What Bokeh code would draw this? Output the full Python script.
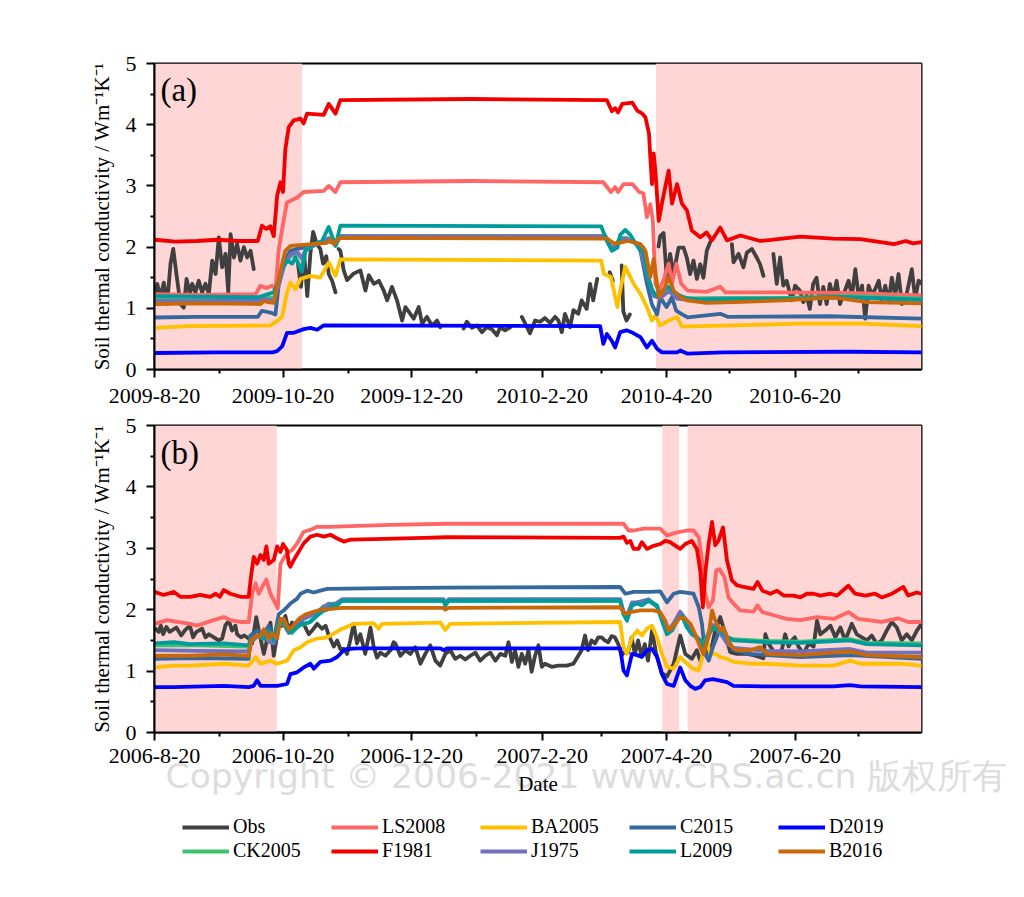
import numpy as np
import pandas as pd
from bokeh.plotting import figure
from bokeh.models import FixedTicker, BoxAnnotation, Label, Legend, LegendItem, Range1d
from bokeh.layouts import column
from bokeh.embed import file_html
from bokeh.resources import INLINE

# ---------------- data ----------------
SERIES = ["Obs", "LS2008", "BA2005", "C2015", "D2019", "CK2005", "F1981", "J1975", "L2009", "B2016"]
COLORS = ["#404040", "#FF6666", "#FFC000", "#35689C", "#0000FF", "#3DC36F", "#F20000", "#7070C0", "#009B9B", "#C8680A"]

A_START, A_END = "2009-08-20", "2010-08-19"
B_START, B_END = "2006-08-20", "2007-08-19"

A_TICKS = ["2009-08-20", "2009-10-20", "2009-12-20", "2010-02-20", "2010-04-20", "2010-06-20"]
A_TICK_LABELS = ["2009-8-20", "2009-10-20", "2009-12-20", "2010-2-20", "2010-4-20", "2010-6-20"]
A_MINOR = ["2009-09-20", "2009-11-20", "2010-01-20", "2010-03-20", "2010-05-20", "2010-07-20"]
B_TICKS = ["2006-08-20", "2006-10-20", "2006-12-20", "2007-02-20", "2007-04-20", "2007-06-20"]
B_TICK_LABELS = ["2006-8-20", "2006-10-20", "2006-12-20", "2007-2-20", "2007-4-20", "2007-6-20"]
B_MINOR = ["2006-09-20", "2006-11-20", "2007-01-20", "2007-03-20", "2007-05-20", "2007-07-20"]

A_SHADE = [("2009-08-20", "2009-10-29"), ("2010-04-15", "2010-08-19")]
B_SHADE = [("2006-08-20", "2006-10-17"), ("2007-04-18", "2007-04-26"), ("2007-04-30", "2007-08-19")]

Y_TICKS = [0, 1, 2, 3, 4, 5]
Y_MINOR = [0.5, 1.5, 2.5, 3.5, 4.5]

# (day offset from start, value); None = gap in record
A_OBS = [(0.5,1.24),(1.3,1.40),(2.8,1.18),(4.4,1.42),(6,1.07),(7.6,1.73),(8.9,1.97),(10.4,1.56),(12.3,1.07),(13.9,1.01),
         (15.2,1.48),(16.8,1.24),(17.9,1.40),(19.4,1.26),(21,1.45),(22.6,1.26),(24.2,1.40),(25.8,1.24),(27.4,1.78),(29,1.56),
         (30.5,2.16),(32.1,1.67),(33.7,1.89),(35,1.26),(36.1,2.21),(37.7,1.83),(39.2,2.05),(40.8,1.78),(42.4,2.0),(44,1.83),
         (45.6,1.94),(47.1,1.64), None,
         (68,1.75),(69.5,1.35),(71,1.9),(72.5,1.2),(74,1.9),(75.3,2.25),(77,2.05),(78.7,1.97),(80,1.73),(81.5,1.85),(82.7,1.56),
         (84.3,1.45),(85.9,1.26), None,
         (87.4,1.97),(88.2,1.94),(89.8,1.62),(91.4,1.46),(94.6,1.57),(97.7,1.62),(100.1,1.29),(101.7,1.54),(104.1,1.40),(106.5,1.45),
         (108.8,1.29),(110.4,1.13),(112.7,1.35),(115.1,1.13),(117.5,0.80),(119.1,1.02),(121.4,0.91),(123,0.83),(125.4,1.02),(127,0.75),
         (129.3,0.86),(131.7,0.72),(134.1,0.80),(135.6,0.69), None,
         (146.7,0.67),(148.2,0.78),(150.6,0.68),(153,0.72),(155.4,0.61),(157.7,0.69),(160,0.66),(162.5,0.56),(164,0.69),(166.4,0.64),
         (168.8,0.69), None,
         (174.3,0.86),(175.8,0.76),(178.2,0.59),(180.6,0.80),(183,0.78),(185.3,0.84),(187.7,0.76),(190.1,0.86),(191.7,0.80),(193.3,0.61),
         (194.8,0.91),(197.2,0.69),(198.8,0.97),(201.1,0.91),(202.7,1.13),(205.1,0.99),(206.7,1.40),(208.2,1.13),(210.1,1.48), None,
         (216,1.59),(217.5,1.45), None,
         (221.7,1.70),(222.5,0.95),(224,0.80),(225.6,0.90), None,
         (239.2,2.01),(240,2.18),(241.6,2.23),(243.2,1.46),(244.7,1.89),(246.3,1.56),(248.7,1.99),(251.1,1.99),(252.6,1.83),(254.2,1.56),
         (255.8,1.78),(257.4,1.48),(259,1.72),(260.5,1.50),(262.1,1.94),(263.7,2.08), None,
         (274,2.05),(274.8,1.75),(277.2,1.89),(279.5,1.67),(281.1,1.91),(283.5,1.97),(285.8,1.83),(287.4,1.72),(289,1.53), None,
         (293.7,1.89),(295.3,1.40),(296.9,1.83),(298.4,1.37),(300,1.45),(302.4,1.13),(304,1.37),(306.3,1.29),(307.9,1.10),(309.5,1.21),
         (311,0.99),(312.6,1.40),(314.2,1.50),(315.8,1.07),(317.4,1.35),(319,1.07),(320.5,1.40),(322.1,1.18),(323.7,1.45),(325.3,1.07),
         (329.4,1.45),(331,1.21),(332.6,1.64),(334.2,1.18),(335.8,1.37),(337.3,0.83),(338.9,1.37),(340.5,1.21),(342.1,1.32),(343.7,1.45),
         (345.2,1.13),(346.8,1.37),(348.4,1.10),(349.9,1.50),(351.5,1.21),(353.1,1.56),(354.7,1.07),(356.3,1.13),(357.8,1.37),(359.4,1.64),
         (361,1.15),(362.6,1.45),(364.2,1.40)]
A_LS2008 = [(0,1.23),(20,1.22),(48,1.23),(50.3,1.37),(53,1.33),(55.8,1.37),(57.4,1.30),(59,1.97),(61.4,2.46),(62.9,2.73),(67.7,2.81),
            (70.8,2.90),(80.3,2.92),(82.7,3.00),(85.9,2.90),(88.2,3.06),(150,3.08),(213,3.06),(216.6,2.90),(218.6,2.98),(220,2.90),
            (222.6,3.03),(226.8,3.03),(230,2.90),(232,2.88),(233.7,2.49),(235.3,2.70),(236.5,2.43),(237.7,1.40),(239.3,1.29),(241.5,1.45),
            (244,1.73),(245.6,1.40),(247.6,1.73),(250,1.40),(253,1.29),(262,1.27),(268.5,1.35),(271,1.26),(300,1.26),(330,1.25),(364,1.21)]
A_BA2005 = [(0,0.68),(17,0.71),(55,0.72),(58.2,0.79),(60.6,0.87),(62.9,1.26),(64.5,1.42),(66.9,1.31),(69.3,1.48),(74,1.53),(78.7,1.50),
            (82.7,1.75),(85.9,1.53),(88.2,1.80),(212,1.78),(213.3,1.56),(216.6,1.51),(219.7,1.02),(221,1.29),(223.4,1.68),(227.4,1.40),
            (230.6,1.24),(233.7,1.02),(236.1,0.80),(237.7,0.88),(240,0.72),(244,0.80),(248,0.86),(250.3,0.70),(259,0.71),(275,0.72),
            (306,0.75),(335,0.75),(364,0.71)]
A_C2015 = [(0,0.85),(20,0.86),(49,0.86),(51,0.96),(55,0.93),(57.4,0.90),(59,1.40),(61.4,1.75),(64.5,1.94),(67.7,1.97),(70.8,1.99),
           (75,2.05),(82.7,2.10),(85.9,2.05),(88.2,2.17),(214,2.17),(217,1.95),(222,2.12),(226,2.10),(230,2.05),(233.7,1.40),(236.1,1.06),
           (238.5,0.90),(240,1.18),(243,1.02),(245.6,1.18),(247.6,0.96),(250,0.91),(253,0.85),(268.5,0.91),(272,0.86),(320,0.87),(364,0.83)]
A_D2019 = [(0,0.27),(30,0.28),(56,0.28),(58.2,0.30),(60.6,0.38),(62.9,0.60),(66.1,0.60),(70.8,0.66),(74,0.68),(77.2,0.65),(80.3,0.72),
           (211.5,0.71),(213,0.42),(214.7,0.58),(217,0.47),(218.6,0.36),(221,0.61),(224,0.64),(227,0.60),(230.6,0.53),(233.7,0.36),
           (236.1,0.47),(238.5,0.34),(240.8,0.28),(248,0.28),(249.5,0.31),(252.7,0.26),(270,0.28),(330,0.29),(364,0.28)]
A_CK2005 = [(0,1.15),(49,1.14),(52,1.20),(56.6,1.16),(59,1.40),(61.4,1.70),(64.5,1.85),(67.7,1.90),(70,1.80),(72,1.95),(77,2.05),
            (82.7,2.15),(85.9,2.02),(88.2,2.18),(214,2.18),(217,1.96),(221,2.15),(224,2.15),(230,2.02),(234,1.55),(237,1.22),(240,1.20),
            (244,1.30),(248,1.18),(252,1.16),(270,1.17),(300,1.17),(330,1.20),(364,1.16)]
A_F1981 = [(0,2.12),(10,2.09),(20,2.10),(30,2.12),(40,2.10),(49,2.10),(51,2.35),(53,2.30),(55,2.34),(56.6,2.18),(58.2,2.84),(59.8,3.06),
           (61,2.90),(62.1,3.60),(63.7,3.96),(66.1,4.07),(69.3,4.10),(70.8,4.02),(72.4,4.18),(80.3,4.16),(82.7,4.34),(85.9,4.18),(88.2,4.40),
           (150,4.42),(214.7,4.40),(217.1,4.22),(218.6,4.27),(220,4.20),(222,4.34),(226.8,4.36),(229.1,4.23),(231.5,4.18),(233,4.12),
           (234.7,3.85),(235.3,3.47),(236.1,3.03),(236.9,3.53),(237.7,3.25),(239.3,2.43),(240.8,2.71),(244,3.25),(245.6,2.71),(248,3.03),
           (250.3,2.71),(252.7,2.60),(255,2.27),(259,2.16),(262,2.24),(264.5,2.11),(268.5,2.32),(271.7,2.11),(278,2.19),(287.5,2.10),
           (306.5,2.17),(322,2.14),(335,2.13),(351,2.05),(356.5,2.10),(360,2.06),(364,2.08)]
A_J1975 = [(0,1.12),(49,1.12),(52,1.16),(56.6,1.12),(59,1.38),(61.4,1.68),(64.5,1.88),(67.7,1.92),(70,1.82),(72,1.97),(77,2.05),
           (82.7,2.14),(85.9,2.04),(88.2,2.18),(214,2.18),(217,1.98),(221,2.12),(224,2.14),(230,2.03),(234,1.50),(237,1.20),(240,1.17),
           (244,1.28),(248,1.16),(252,1.14),(270,1.15),(300,1.15),(330,1.18),(364,1.14)]
A_L2009 = [(0,1.20),(20,1.19),(49,1.18),(56.6,1.26),(58.5,1.40),(60.6,1.67),(63,1.78),(65.3,1.73),(66.9,1.83),(70,1.60),(71.6,1.94),
           (75,2.04),(79.5,2.10),(82.7,2.33),(85.9,2.02),(88.2,2.35),(212,2.34),(214.7,2.10),(217.1,1.94),(219.7,1.99),(221,2.20),
           (223.4,2.28),(225.8,2.20),(227.4,2.11),(230.6,1.94),(232,1.99),(233.7,1.57),(236.1,1.30),(238.5,1.19),(241.6,1.30),(244,1.35),
           (247.2,1.25),(250.3,1.19),(253.5,1.16),(259,1.14),(275,1.15),(306,1.16),(322,1.19),(364,1.14)]
A_B2016 = [(0,1.07),(20,1.08),(50.3,1.07),(51.9,1.12),(54,1.10),(56.6,1.09),(58.2,1.35),(60.6,1.73),(62.1,1.94),(64.5,2.02),(72,2.04),
           (81.9,2.07),(83.5,2.12),(85.1,2.05),(86.7,2.12),(88.2,2.15),(214.7,2.14),(218.6,2.05),(221.8,2.08),(225,2.10),(230.6,2.05),
           (233,1.94),(235.3,1.51),(236.9,1.81),(239.3,1.18),(241.6,1.29),(244,1.51),(246.4,1.29),(249.5,1.18),(252.7,1.13),(262,1.09),
           (275,1.10),(299,1.13),(322,1.18),(338,1.10),(364,1.08)]

B_OBS = [(0.5,1.69),(2,1.64),(3,1.74),(4.1,1.60),(5.6,1.72),(7.2,1.64),(10.4,1.71),(12.7,1.58),(14.3,1.66),(16.8,1.74),(18.3,1.55),
         (19.9,1.64),(22.6,1.69),(24.2,1.55),(25.8,1.60),(28.2,1.55),(30.5,1.50),(32.1,1.53),(33.7,1.75),(35.3,1.82),(36.8,1.66),
         (38.4,1.74),(39.2,1.60),(41,1.55),(42.6,1.58),(44.7,1.53),(46.3,1.45),(48.3,1.88),(49.5,1.66),(51.9,1.28),(53.5,1.53),(55,1.79),
         (56.6,1.25),(57.8,1.50),(58.6,1.79),(60.5,1.74),(62.1,1.90),(63.7,1.66),(65.3,1.79),(66.9,1.74),(68.5,1.82),(70.8,1.77),
         (73.2,1.60),(74.8,1.66),(77.2,1.77),(79.5,1.69),(81.2,1.74),(82.7,1.58),(85.1,1.40),(86.7,1.50),(88.2,1.36),(90,1.36),(91.4,1.28),
         (92.9,1.50),(94.5,1.77),(96.1,1.45),(97.7,1.60),(100,1.28),(102.5,1.71),(104,1.40),(105.6,1.22),(107.2,1.30),(109.6,1.25),
         (112,1.34),(113.5,1.47),(114.3,1.45),(116.7,1.25),(119.1,1.34),(121.4,1.28),(123.8,1.39),(126.2,1.12),(128.5,1.28),(130.9,1.42),
         (133.3,1.17),(135.6,1.09),(138,1.28),(140.4,1.34),(142.7,1.20),(145.1,1.25),(147.5,1.19),(149.9,1.25),(152.3,1.30),(154.6,1.17),
         (157,1.25),(159.4,1.30),(161.8,1.17),(164.1,1.28),(166.5,1.25),(168,1.47),(169.6,1.15),(171.1,1.34),(172.7,1.07),(174.3,1.28),
         (175.9,1.12),(177.5,1.34),(179,0.99),(180.6,1.25),(182.2,1.42),(183.8,1.07),(185.3,1.12),(188.5,1.07),(191.6,1.09),(195.6,1.09),
         (198.8,1.12),(201.1,1.25),(202.7,1.34),(204.3,1.58),(205.8,1.34),(207.4,1.50),(209,1.45),(210.6,1.55),(212.2,1.55),(213.7,1.50),
         (215.3,1.47),(216.9,1.57),(218.5,1.55),(220.1,1.44),(221.7,1.25),(223.4,1.34),(224.8,1.30),(226.4,1.55),(228,1.28),(229.5,1.50),
         (231.1,1.25),(232.7,1.44),(234.2,1.17),(236.1,1.66),(238,1.30),(240.8,0.97),(243.2,0.91),(246.4,1.12),(249.5,1.58),(251.9,1.28),
         (255,1.20),(257.4,1.34),(259,1.17),(261.3,1.34),(263.7,1.28),(266.1,1.66),(268.5,1.88),(270.9,1.60),(273.2,1.31),(276.3,1.28),
         (281.1,1.28),(284.3,1.26),(289,1.21),(289.9,1.60),(291.4,1.45),(294.6,1.28),(297.7,1.34),(299.3,1.60),(300.9,1.40),(302.5,1.50),
         (303.9,1.55),(305.6,1.40),(308.1,1.28),(310.4,1.45),(312.8,1.40),(314.4,1.82),(316,1.60),(318.3,1.66),(320.8,1.74),(323.1,1.55),
         (325.5,1.71),(327.8,1.50),(330.9,1.77),(333.3,1.60),(335.7,1.55),(338.1,1.50),(340.4,1.58),(342.8,1.44),(345.1,1.50),(347.5,1.66),
         (349.9,1.80),(352.3,1.71),(354.6,1.50),(357,1.60),(359.4,1.50),(361.8,1.66),(364,1.77)]
B_LS2008 = [(0,1.77),(6,1.83),(10.9,1.80),(17,1.77),(20.2,1.74),(28,1.83),(32.9,1.88),(36,1.83),(40.8,1.80),(44.7,1.80),(46.3,2.26),
            (48,2.43),(49.5,2.26),(51.1,2.37),(53.1,2.49),(55,2.26),(57.4,2.10),(58.5,2.02),(59.8,2.75),(61.4,2.84),(62.9,2.92),(65.3,2.97),
            (67.7,3.08),(70.8,3.27),(74,3.30),(77.2,3.35),(83.5,3.35),(93,3.36),(112,3.38),(138.8,3.40),(222.6,3.40),(225,3.29),(227.4,3.29),
            (232.1,3.32),(240,3.32),(243.2,3.21),(248,3.26),(252.7,3.29),(255.8,3.29),(258.3,3.18),(259.8,2.81),(261.3,2.26),(263,2.04),
            (265,2.15),(266.6,2.64),(268.2,2.66),(270.5,2.53),(272.4,2.20),(274.8,2.10),(277.9,1.99),(284.3,1.97),(286.2,2.07),(288.5,1.96),
            (293.9,1.91),(300.1,1.85),(306.5,1.83),(314.4,1.88),(322.3,1.85),(329.3,1.96),(334,1.85),(345,1.80),(352.9,1.86),(357.7,1.80),
            (364,1.80)]
B_BA2005 = [(0,1.06),(9.2,1.09),(17,1.09),(32.9,1.12),(44.7,1.09),(48,1.23),(50.3,1.12),(55,1.17),(58.2,1.12),(62.9,1.17),(66.1,1.34),
            (69.3,1.39),(72.4,1.47),(77.2,1.53),(81.9,1.55),(85,1.61),(89,1.69),(91.4,1.72),(94.6,1.77),(104,1.78),(106.4,1.69),(108,1.77),
            (135.7,1.79),(138,1.67),(140.4,1.77),(221,1.80),(222.6,1.39),(224.2,1.28),(226.6,1.55),(229.1,1.66),(231.3,1.58),(233.7,1.69),
            (236.1,1.74),(238.5,1.55),(240.8,1.28),(243.2,1.07),(246.4,1.04),(249.5,1.23),(252.7,1.12),(255.8,1.04),(258.3,1.01),(260.7,1.34),
            (262.1,1.50),(263.7,1.28),(266.1,1.28),(268.5,1.23),(271.7,1.20),(274.8,1.15),(282.7,1.12),(290.6,1.12),(306.5,1.09),(322.3,1.09),
            (330,1.17),(335,1.12),(354,1.12),(364,1.09)]
B_C2015 = [(0,1.20),(20,1.21),(44.7,1.20),(45.5,1.58),(48.7,1.66),(51.9,1.60),(54.2,1.74),(56.6,1.50),(59,1.93),(61.4,1.99),(64.5,2.10),
           (67.7,2.18),(69.3,2.26),(72.4,2.31),(75.6,2.28),(78.7,2.31),(81.9,2.34),(110,2.35),(138.8,2.36),(221,2.37),(223.4,2.26),
           (227.4,2.29),(235.3,2.29),(240,2.30),(243.2,2.12),(246.4,2.26),(249.5,2.29),(255.8,2.26),(258.3,2.04),(259.8,1.77),(261.3,1.28),
           (263,1.17),(265,1.39),(267.4,1.60),(269.8,1.71),(272.4,1.50),(274.8,1.34),(282.7,1.28),(290.6,1.26),(306.5,1.23),(330,1.26),
           (364,1.20)]
B_D2019 = [(0,0.74),(9.2,0.74),(32.9,0.76),(44.7,0.74),(47.1,0.76),(48.7,0.85),(50.3,0.76),(53.5,0.76),(58.2,0.76),(62.9,0.79),(64.5,0.95),
           (67.7,0.98),(70.8,1.06),(74,1.12),(75.6,1.04),(78.7,1.15),(83.5,1.17),(86.7,1.23),(89.8,1.34),(91.4,1.36),(96,1.37),(135.7,1.37),
           (137.2,1.34),(138.8,1.37),(221,1.37),(222.6,1.01),(224.2,0.93),(226.6,1.28),(229.1,1.26),(231.3,1.23),(233.7,1.34),(236.1,1.36),
           (238.5,1.23),(240.8,0.95),(243.2,0.79),(246.4,0.76),(249.5,1.06),(251.9,0.85),(254.3,0.76),(256.6,0.71),(259,0.74),(261.3,0.85),
           (265,0.87),(271.7,0.82),(274.8,0.76),(290.6,0.75),(322.3,0.75),(330,0.77),(335,0.75),(364,0.74)]
B_CK2005 = [(0,1.42),(20,1.42),(44.7,1.40),(46,1.50),(48.7,1.58),(51.9,1.52),(54,1.62),(56.6,1.48),(59,1.78),(61.4,1.76),(63,1.66),
            (65.3,1.62),(68.5,1.74),(73.2,1.79),(75.5,1.86),(78,1.98),(80.3,2.06),(82.7,2.05),(84.5,2.10),(86.7,2.10),(89,2.14),(137.2,2.14),
            (138,2.07),(139.6,2.14),(221,2.14),(222.6,1.92),(224.2,1.84),(226.6,2.08),(229.1,2.12),(234.5,2.14),(238.5,2.05),(240.8,1.84),
            (243.2,1.63),(245.6,1.68),(248,1.84),(250.3,1.90),(252.7,1.72),(255,1.62),(257.4,1.56),(260.7,1.42),(262.8,1.62),(265,1.70),
            (268.5,1.66),(271.7,1.56),(274.8,1.52),(290.6,1.49),(306.5,1.48),(330,1.52),(338,1.46),(364,1.45)]
B_F1981 = [(0,2.29),(4.3,2.24),(9.2,2.29),(12.3,2.21),(17,2.21),(21.7,2.24),(26.4,2.21),(29,2.26),(31,2.21),(32.9,2.32),(36,2.26),
           (40.8,2.21),(44.7,2.21),(45.8,2.54),(47.1,2.86),(48.7,2.75),(50.3,2.89),(51.9,2.81),(53.1,3.03),(54.2,2.75),(56.6,2.81),
           (58.2,3.03),(59.8,2.94),(61,3.07),(62.9,2.97),(63.7,2.75),(64.5,2.70),(66.1,2.81),(70.8,3.08),(74,3.19),(77.2,3.22),(80.3,3.19),
           (83.5,3.22),(86.7,3.16),(89.8,3.11),(93,3.14),(104,3.15),(127.8,3.17),(138.8,3.18),(221,3.17),(222.6,3.19),(224.2,3.09),
           (225.8,3.12),(227.4,2.99),(229.7,2.99),(231.3,3.10),(233.7,2.99),(236.9,3.04),(240,3.07),(242.4,3.12),(244.7,3.10),(247.3,3.04),
           (249.5,2.99),(251.9,3.07),(255,3.12),(257.4,2.99),(259,2.64),(260.2,2.04),(261.5,2.64),(263,3.07),(264.6,3.43),(266.1,3.05),
           (267.7,3.13),(269.8,3.34),(271.7,2.80),(274,2.48),(276.3,2.40),(279.5,2.37),(284.3,2.34),(286.2,2.45),(288.5,2.31),(292.3,2.26),
           (295.4,2.31),(298.6,2.23),(303.3,2.23),(306.5,2.20),(309.6,2.26),(312.8,2.26),(316,2.23),(320.8,2.26),(323.9,2.23),(329.3,2.39),
           (332.5,2.26),(337.3,2.23),(342,2.26),(345.2,2.20),(350,2.26),(355.4,2.37),(357.7,2.23),(361.7,2.28),(364,2.26)]
B_J1975 = [(0,1.34),(20,1.33),(44.7,1.32),(46,1.48),(48.3,1.55),(51.9,1.60),(54.2,1.48),(56.6,1.45),(59.8,1.80),(61.4,1.82),(63.7,1.62),
           (66,1.70),(69,1.82),(74,1.90),(78.7,2.00),(82.7,2.10),(85,2.08),(89,2.17),(137.2,2.17),(138,2.10),(139.6,2.17),(221,2.17),
           (222.6,1.97),(224.2,1.90),(226.6,2.12),(229.1,2.12),(234.5,2.17),(238.5,2.05),(240.8,1.85),(243.2,1.65),(246.4,1.78),(249.5,1.97),
           (252.7,1.82),(255,1.65),(258,1.50),(260.5,1.32),(262.8,1.55),(265,1.75),(268.5,1.62),(271.7,1.45),(274.8,1.38),(290.6,1.33),
           (306.5,1.32),(330,1.36),(338,1.30),(364,1.30)]
B_L2009 = [(0,1.45),(9.2,1.47),(17,1.44),(32.9,1.45),(44.7,1.42),(45.5,1.50),(48.7,1.58),(51.9,1.53),(54,1.66),(56.6,1.50),(59,1.80),
           (61.4,1.78),(63,1.68),(64.5,1.63),(69.3,1.76),(74,1.80),(76.4,1.88),(80,1.98),(82,2.00),(84.3,2.08),(86.2,2.05),(88.9,2.15),
           (137.2,2.15),(138,2.07),(139.6,2.15),(221,2.15),(222.6,1.93),(224.2,1.82),(226.6,2.07),(229.1,2.10),(231.3,2.07),(234.5,2.15),
           (238.5,2.07),(240.8,1.82),(243.2,1.60),(245.6,1.66),(248,1.82),(250.3,1.90),(252.7,1.71),(255,1.60),(257.4,1.55),(259,1.50),
           (260.7,1.39),(262.8,1.60),(265,1.71),(268.5,1.66),(271.7,1.55),(274.8,1.50),(290.6,1.47),(306.5,1.46),(330,1.50),(338,1.44),
           (364,1.42)]
B_B2016 = [(0,1.25),(17,1.25),(32.9,1.27),(44.7,1.25),(46,1.50),(48.3,1.58),(49.9,1.56),(51.9,1.68),(54.2,1.53),(55.8,1.62),(58.2,1.53),
           (59.8,1.85),(61.4,1.85),(63.7,1.68),(65.3,1.72),(68.5,1.85),(71.6,1.92),(74,1.95),(78.7,2.00),(83,2.01),(88.9,2.03),(137.2,2.03),
           (138,2.00),(139.6,2.03),(221,2.04),(223.4,1.93),(225.8,1.96),(230.6,1.99),(236.9,1.99),(240,1.96),(242.4,1.82),(244,1.66),
           (246.4,1.74),(249.5,1.88),(251.9,1.85),(254.3,1.77),(256.6,1.60),(259,1.39),(260.5,1.28),(262.8,1.55),(264.6,1.99),(266.1,1.82),
           (268.5,1.66),(270,1.71),(273.2,1.42),(276.3,1.34),(282.7,1.34),(287.5,1.39),(290.6,1.28),(306.5,1.26),(330,1.32),(338,1.26),
           (364,1.23)]

A_DATA = [A_OBS, A_LS2008, A_BA2005, A_C2015, A_D2019, A_CK2005, A_F1981, A_J1975, A_L2009, A_B2016]
B_DATA = [B_OBS, B_LS2008, B_BA2005, B_C2015, B_D2019, B_CK2005, B_F1981, B_J1975, B_L2009, B_B2016]

Y_LABEL = "Soil thermal conductivity / Wm\u207b\u00b9K\u207b\u00b9"
X_LABEL = "Date"
WATERMARK = "Copyright \u00a9 2006-2021 www.CRS.ac.cn \u7248\u6743\u6240\u6709"

# ---------------- helpers ----------------
SERIF = "Liberation Serif"
SHADE_COLOR = "#FDD6D5"
LEFT, FRAME_W, RIGHT = 154, 767, 95
TOTAL_W = LEFT + FRAME_W + RIGHT
LINE_W = 3.8


def ms(s):
    return pd.Timestamp(s).value / 1e6


def to_xy(start, pairs):
    t0 = pd.Timestamp(start)
    xs, ys = [], []
    for pr in pairs:
        if pr is None:
            xs.append(xs[-1])
            ys.append(np.nan)
        else:
            xs.append(t0 + pd.Timedelta(days=pr[0]))
            ys.append(pr[1])
    return pd.DatetimeIndex(xs), np.array(ys, dtype=float)


def make_panel(start, end, data, shades, ticks, tick_labels, minor, tag, top, fh, bottom, standoff):
    p = figure(x_axis_type="datetime", frame_width=FRAME_W, frame_height=fh,
               x_range=Range1d(ms(start), ms(end)), y_range=Range1d(0, 5),
               output_backend="svg", toolbar_location=None,
               min_border_left=LEFT, min_border_right=RIGHT, min_border_top=top, min_border_bottom=bottom)
    p.background_fill_color = "white"
    p.border_fill_color = "white"
    p.outline_line_color = "black"
    p.outline_line_width = 2
    p.outline_line_alpha = 1.0
    p.xgrid.visible = False
    p.ygrid.visible = False

    for a, b in shades:
        p.add_layout(BoxAnnotation(left=ms(a), right=ms(b), fill_color=SHADE_COLOR, fill_alpha=1.0,
                                   line_alpha=0, level="underlay"))

    for name, color, pairs in zip(SERIES, COLORS, data):
        xs, ys = to_xy(start, pairs)
        p.line(xs, ys, line_color=color, line_width=LINE_W, line_join="round", line_cap="round")

    tick_ms = [ms(t) for t in ticks]
    p.xaxis.ticker = FixedTicker(ticks=tick_ms, minor_ticks=[ms(t) for t in minor])
    p.xaxis.major_label_overrides = {t: lab for t, lab in zip(tick_ms, tick_labels)}
    p.yaxis.ticker = FixedTicker(ticks=Y_TICKS, minor_ticks=Y_MINOR)

    for ax in (p.xaxis, p.yaxis):
        ax.axis_line_color = "black"
        ax.axis_line_width = 2
        ax.major_tick_line_color = "black"
        ax.major_tick_line_width = 2
        ax.minor_tick_line_color = "black"
        ax.minor_tick_line_width = 2
        ax.major_tick_in = 0
        ax.major_tick_out = 8
        ax.minor_tick_in = 0
        ax.minor_tick_out = 4
        ax.major_label_text_font = SERIF
        ax.major_label_text_font_size = "22px"
        ax.major_label_text_color = "black"
        ax.axis_label_text_font = SERIF
        ax.axis_label_text_font_size = "21px"
        ax.axis_label_text_font_style = "normal"
        ax.axis_label_text_color = "black"
    p.xaxis.major_label_standoff = standoff
    p.yaxis.major_label_standoff = 10
    p.yaxis.axis_label = Y_LABEL
    p.yaxis.axis_label_standoff = 9

    p.add_layout(Label(x=ms(start) + 2.8 * 86400000, y=4.56, text=tag, text_font=SERIF,
                       text_font_size="33px", text_baseline="middle", text_color="black"))
    return p


pa = make_panel(A_START, A_END, A_DATA, A_SHADE, A_TICKS, A_TICK_LABELS, A_MINOR, "(a)", 63, 306, 42, 11)
pb = make_panel(B_START, B_END, B_DATA, B_SHADE, B_TICKS, B_TICK_LABELS, B_MINOR, "(b)", 14, 307, 42, 8)

# bottom strip (transparent, pulled up over panel b's tick-label band):
# x-axis title, watermark and legend, positioned in page pixels
OVERLAP = 30
STRIP_TOP = 776 - OVERLAP
STRIP_H = 124
pl = figure(frame_width=TOTAL_W - LEFT, frame_height=STRIP_H, output_backend="svg", toolbar_location=None,
            min_border_left=LEFT, min_border_right=0, min_border_top=0, min_border_bottom=0,
            x_range=Range1d(LEFT, TOTAL_W), y_range=Range1d(STRIP_TOP + STRIP_H, STRIP_TOP),
            x_axis_location=None, y_axis_location=None)
pl.margin = (-OVERLAP, 0, 0, 0)
pl.outline_line_color = None
pl.border_fill_alpha = 0
pl.background_fill_alpha = 0
pl.xgrid.visible = False
pl.ygrid.visible = False
pl.add_layout(Label(x=165, y=777, text=WATERMARK, text_font="DejaVu Sans", text_font_size="34.6px",
                    text_color="#DDDDDD", text_baseline="alphabetic", level="underlay"))
pl.add_layout(Label(x=LEFT + FRAME_W / 2, y=785, text=X_LABEL, text_font=SERIF, text_font_size="21px",
                    text_align="center", text_baseline="middle", text_color="black"))
items = []
for name, color in zip(SERIES, COLORS):
    r = pl.line(x=[np.nan, np.nan], y=[np.nan, np.nan], line_color=color, line_width=4)
    items.append(LegendItem(label=name, renderers=[r]))
legend = Legend(items=items, ncols=5, orientation="horizontal", location=(28, 6),
                label_text_font=SERIF, label_text_font_size="20px", label_text_color="black",
                glyph_width=47, glyph_height=20, label_standoff=4, label_width=97, label_height=20,
                spacing=1, padding=0, margin=0, border_line_alpha=0, background_fill_alpha=0)
pl.add_layout(legend)

layout = column(pa, pb, pl, spacing=0)
open("out.html", "w").write(file_html(layout, INLINE))
